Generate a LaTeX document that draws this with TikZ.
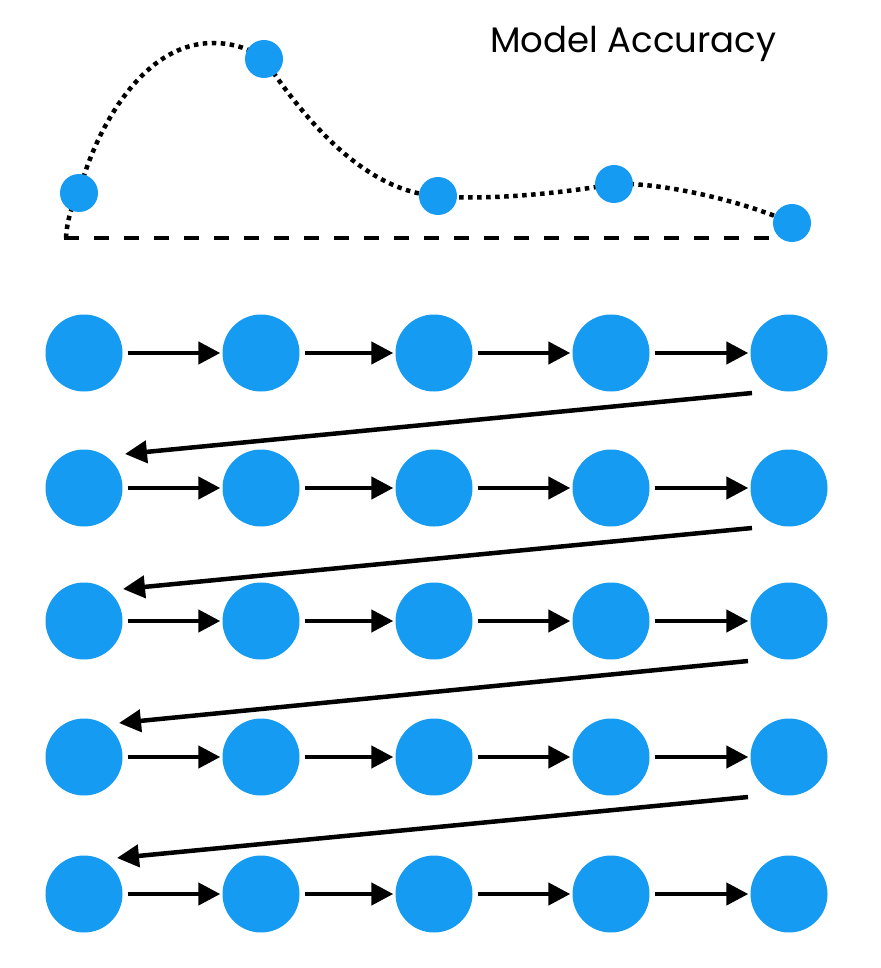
\documentclass[tikz,border=0pt]{standalone}
\usepackage{fontspec}
\setmainfont{Poppins}
\usetikzlibrary{arrows.meta,calc}
\definecolor{myblue}{RGB}{22,155,242}
\tikzset{
  bigdot/.style={circle,fill=myblue,draw=none,inner sep=0pt,minimum size=77pt},
  smalldot/.style={circle,fill=myblue,draw=none,inner sep=0pt,minimum size=38pt},
  flow/.style={line width=4.5pt,-{Triangle[length=22pt,width=22pt]}},
  curveline/.style={line width=4.5pt,dash pattern=on 4.5pt off 4.5pt},
  baseline/.style={line width=3.5pt,dash pattern=on 15pt off 15pt},
  title/.style={font=\fontsize{35.5}{40}\selectfont,inner sep=0pt,anchor=base west}
}
\begin{document}
\begin{tikzpicture}[x=1pt,y=-1pt]
\useasboundingbox (0,0) rectangle (880,968);
% accuracy plot
\coordinate (b0) at (64,238);
\coordinate (b1) at (812,238);
\coordinate (c1) at (79,193);
\coordinate (c2) at (264,59);
\coordinate (c3) at (438,196);
\coordinate (c4) at (614,184);
\coordinate (c5) at (792,223);
\coordinate (top) at (213,43);
\draw[baseline] (b0) -- (b1);
\draw[curveline] (66,238) .. controls (67,220) and (72,205) .. (c1)
  .. controls (92,140) and (138,43) .. (top)
  .. controls (235,43) and (252,50) .. (c2)
  .. controls (305,120) and (365,192) .. (c3)
  .. controls (490,201) and (570,192) .. (c4)
  .. controls (660,182) and (740,200) .. (c5);
\node[smalldot] (p1) at (c1) {};
\node[smalldot] (p2) at (c2) {};
\node[smalldot] (p3) at (c3) {};
\node[smalldot] (p4) at (c4) {};
\node[smalldot] (p5) at (c5) {};
\node[title] (t) at (490,53) {Model Accuracy};
% grid of nodes
\foreach \r/\y in {1/353,2/488,3/621,4/757,5/894}{
  \foreach \c/\x in {1/84,2/261,3/434,4/611,5/789}{
    \node[bigdot] (n\r\c) at (\x,\y) {};
  }
  \foreach \a/\b in {1/2,2/3,3/4,4/5}{
    \draw[flow,shorten <=5pt,shorten >=2pt] (n\r\a) -- (n\r\b);
  }
}
\coordinate (d1s) at ($(n15)+(-37,40)$);
\coordinate (d1e) at ($(n21)+(41,-34)$);
\coordinate (d2s) at ($(n25)+(-37,40)$);
\coordinate (d2e) at ($(n31)+(39,-32)$);
\coordinate (d3s) at ($(n35)+(-41,40)$);
\coordinate (d3e) at ($(n41)+(35,-34)$);
\coordinate (d4s) at ($(n45)+(-41,40)$);
\coordinate (d4e) at ($(n51)+(33,-36)$);
\draw[flow] (d1s) -- (d1e);
\draw[flow] (d2s) -- (d2e);
\draw[flow] (d3s) -- (d3e);
\draw[flow] (d4s) -- (d4e);
\end{tikzpicture}
\end{document}
